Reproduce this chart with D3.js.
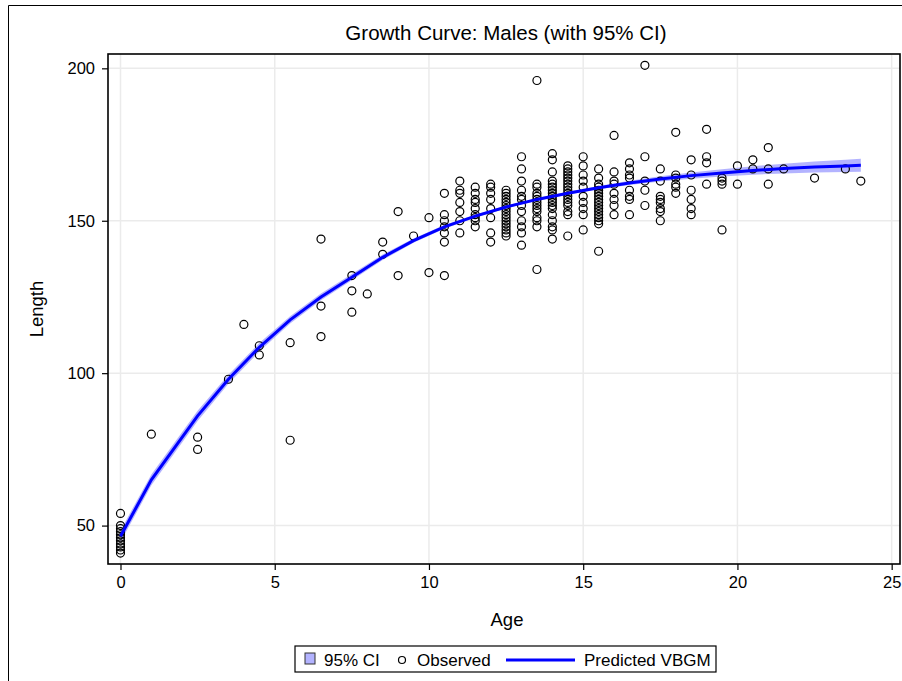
<!DOCTYPE html>
<html>
<head>
<meta charset="utf-8">
<script src="https://cdn.jsdelivr.net/npm/d3@7"></script>
<style>
  body { margin: 0; background: #fff; }
  svg text { font-family: "Liberation Sans", Arial, sans-serif; fill: #000; }
</style>
</head>
<body>
<div id="chart"></div>
<script>
// Observed lengths grouped by age
const obsAges = [0, 1, 2.5, 3.5, 4, 4.5, 5.5, 6.5, 7.5, 8, 8.5, 9, 9.5, 10, 10.5, 11, 11.5, 12,
    12.5, 13, 13.5, 14, 14.5, 15, 15.5, 16, 16.5, 17, 17.5, 18, 18.5, 19, 19.5, 20, 20.5, 21,
    21.5, 22.5, 23.5, 24];
const obsLengths = [
    [54, 50, 49, 48, 47, 46, 45, 44, 43, 42, 41],
    [80],
    [79, 75],
    [98],
    [116],
    [109, 106],
    [110, 78],
    [144, 122, 112],
    [132, 127, 120],
    [126],
    [143, 139],
    [153, 132],
    [145],
    [151, 133],
    [159, 152, 150, 148, 146, 143, 132],
    [163, 160, 159, 156, 153, 150, 146],
    [161, 159, 157, 156, 154, 152, 151, 150, 148],
    [162, 161, 159, 157, 154, 151, 146, 143],
    [160, 159, 158, 157, 156, 155, 154, 153, 152, 151, 150, 149, 148, 147, 146, 145],
    [171, 167, 163, 160, 158, 157, 155, 153, 150, 148, 146, 142],
    [196, 162, 161, 159, 158, 157, 156, 155, 154, 153, 151, 150, 148, 134],
    [172, 170, 166, 163, 162, 161, 160, 159, 158, 157, 156, 155, 154, 152, 150, 148, 147, 144],
    [168, 167, 166, 165, 164, 163, 162, 161, 160, 159, 158, 157, 156, 155, 153, 152, 145],
    [171, 168, 165, 163, 161, 158, 156, 154, 152, 147],
    [167, 164, 162, 161, 160, 159, 158, 157, 156, 155, 154, 153, 152, 151, 150, 149, 140],
    [178, 166, 163, 162, 159, 157, 155, 152],
    [169, 167, 165, 164, 160, 158, 157, 152],
    [201, 171, 163, 160, 155],
    [167, 163, 158, 157, 156, 154, 153, 150],
    [179, 165, 164, 162, 161, 159],
    [170, 165, 160, 157, 154, 152],
    [180, 171, 169, 162],
    [164, 163, 162, 147],
    [168, 162],
    [170, 167],
    [174, 167, 162],
    [167],
    [164],
    [167],
    [163]
];

// Predicted VBGM curve and its 95% CI
const predAges = [0, 1, 2.5, 3.5, 4.5, 5.5, 6.5, 7.5, 8.5, 9.5, 10.5, 11.5, 12.5, 13.5, 14.5,
    15.5, 16.5, 17.5, 18.5, 19.5, 20.5, 21.5, 22.5, 23.5, 24];
const predLength = [46.5, 65, 86, 98, 108.5, 117.5, 125, 131.5, 138, 143.5, 148, 151.5, 154.5,
    157, 159, 160.8, 162.4, 163.7, 164.8, 165.7, 166.5, 167.1, 167.6, 168.0, 168.2];
const ciLower = [44.6, 63.2, 84.3, 96.5, 107.1, 116.3, 123.9, 130.5, 137.1, 142.8, 147.4, 151.0,
    154.1, 156.6, 158.6, 160.3, 161.7, 162.9, 163.8, 164.5, 165.1, 165.5, 165.8, 166.0, 166.1];
const ciUpper = [48.4, 66.8, 87.7, 99.5, 109.9, 118.7, 126.1, 132.5, 138.9, 144.2, 148.6, 152.0,
    154.9, 157.4, 159.5, 161.4, 163.1, 164.6, 165.8, 166.9, 167.9, 168.7, 169.4, 170.0, 170.3];

const xTicks = [0, 5, 10, 15, 20, 25];
const yTicks = [50, 100, 150, 200];

const W = 902, H = 681;
const plot = { left: 108, top: 54, right: 900, bottom: 564 };

const svg = d3.select("#chart").append("svg")
    .attr("width", W)
    .attr("height", H);

// outer frame of the graph
svg.append("path")
    .attr("d", "M8.5," + H + " V5.5 H" + W)
    .style("fill", "none")
    .style("stroke", "#000")
    .style("stroke-width", 1);

const x = d3.scaleLinear().domain([-0.405, 25.27]).range([plot.left, plot.right]);
const y = d3.scaleLinear().domain([37.4, 204.7]).range([plot.bottom, plot.top]);

// grid lines
svg.append("g").selectAll("line.vg")
    .data(xTicks)
    .enter().append("line")
    .attr("x1", d => x(d)).attr("x2", d => x(d))
    .attr("y1", plot.top).attr("y2", plot.bottom)
    .style("stroke", "#ebebeb").style("stroke-width", 1.5);

svg.append("g").selectAll("line.hg")
    .data(yTicks)
    .enter().append("line")
    .attr("x1", plot.left).attr("x2", plot.right)
    .attr("y1", d => y(d)).attr("y2", d => y(d))
    .style("stroke", "#ebebeb").style("stroke-width", 1.5);

// confidence band
const predData = predAges.map((a, i) => ({ age: a, len: predLength[i], lo: ciLower[i], hi: ciUpper[i] }));

const band = d3.area()
    .x(d => x(d.age))
    .y0(d => y(d.lo))
    .y1(d => y(d.hi));

svg.append("path")
    .datum(predData)
    .attr("d", band)
    .style("fill", "#a6a6ff")
    .style("opacity", 0.85);

// observed points
const points = [];
obsAges.forEach((a, i) => {
    obsLengths[i].forEach(v => points.push({ age: a, len: v }));
});

svg.append("g").selectAll("circle")
    .data(points)
    .enter().append("circle")
    .attr("cx", d => x(d.age))
    .attr("cy", d => y(d.len))
    .attr("r", 4)
    .style("fill", "none")
    .style("stroke", "#000")
    .style("stroke-width", 1.2);

// predicted line
const line = d3.line()
    .x(d => x(d.age))
    .y(d => y(d.len));

svg.append("path")
    .datum(predData)
    .attr("d", line)
    .style("fill", "none")
    .style("stroke", "#0000ff")
    .style("stroke-width", 3);

// axes
const xAxis = svg.append("g")
    .attr("transform", "translate(0," + plot.bottom + ")")
    .call(d3.axisBottom(x).tickValues(xTicks).tickSize(6).tickSizeOuter(0).tickPadding(6));

const yAxis = svg.append("g")
    .attr("transform", "translate(" + plot.left + ",0)")
    .call(d3.axisLeft(y).tickValues(yTicks).tickSize(6).tickSizeOuter(0).tickPadding(7));

[xAxis, yAxis].forEach(g => {
    g.select(".domain").remove();
    g.selectAll(".tick line").style("stroke", "#000").style("stroke-width", 1.2);
    g.selectAll(".tick text").style("font-size", "16.5px").style("fill", "#000");
});

// plot frame
svg.append("rect")
    .attr("x", plot.left)
    .attr("y", plot.top)
    .attr("width", plot.right - plot.left)
    .attr("height", plot.bottom - plot.top)
    .style("fill", "none")
    .style("stroke", "#000")
    .style("stroke-width", 1.6);

// title and axis labels
svg.append("text")
    .attr("x", (plot.left + plot.right) / 2 + 2)
    .attr("y", 40)
    .style("text-anchor", "middle")
    .style("font-size", "20.5px")
    .text("Growth Curve: Males (with 95% CI)");

svg.append("text")
    .attr("x", (plot.left + plot.right) / 2 + 3)
    .attr("y", 626)
    .style("text-anchor", "middle")
    .style("font-size", "18.5px")
    .text("Age");

svg.append("text")
    .attr("transform", "translate(43," + (plot.top + plot.bottom) / 2 + ") rotate(-90)")
    .style("text-anchor", "middle")
    .style("font-size", "18.5px")
    .text("Length");

// legend
const legend = svg.append("g").attr("transform", "translate(295,646)");

legend.append("rect")
    .attr("width", 421)
    .attr("height", 26)
    .style("fill", "#fff")
    .style("stroke", "#000")
    .style("stroke-width", 1.2);

legend.append("rect")
    .attr("x", 10).attr("y", 7)
    .attr("width", 10).attr("height", 11)
    .style("fill", "#b3b3ff")
    .style("stroke", "#333")
    .style("stroke-width", 1);

legend.append("text")
    .attr("x", 29).attr("y", 20)
    .style("font-size", "17px")
    .text("95% CI");

legend.append("circle")
    .attr("cx", 107).attr("cy", 14)
    .attr("r", 3.5)
    .style("fill", "none")
    .style("stroke", "#000")
    .style("stroke-width", 1.2);

legend.append("text")
    .attr("x", 122).attr("y", 20)
    .style("font-size", "17px")
    .text("Observed");

legend.append("line")
    .attr("x1", 211).attr("x2", 280)
    .attr("y1", 14).attr("y2", 14)
    .style("stroke", "#0000ff")
    .style("stroke-width", 3);

legend.append("text")
    .attr("x", 289).attr("y", 20)
    .style("font-size", "17px")
    .text("Predicted VBGM");
</script>
</body>
</html>
